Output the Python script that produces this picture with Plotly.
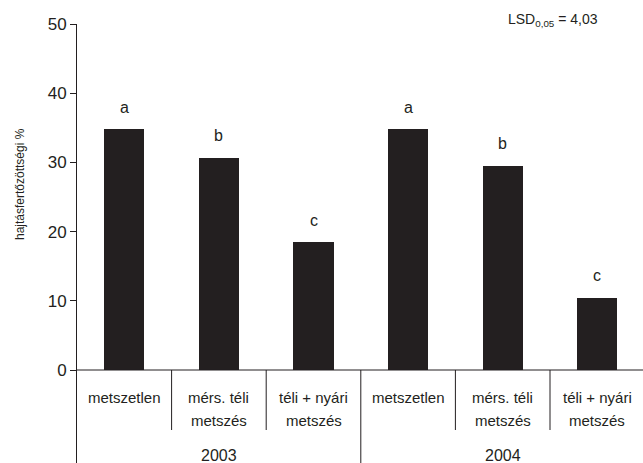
import plotly.graph_objects as go

# Shoot infection by pruning treatment and year
years = ["2003", "2004"]
treatments = ["metszetlen", "mérs. téli<br>metszés", "téli + nyári<br>metszés"]
values_2003 = [34.8, 30.7, 18.45]
values_2004 = [34.8, 29.5, 10.45]
letters_2003 = ["a", "b", "c"]
letters_2004 = ["a", "b", "c"]
y_ticks = [0, 10, 20, 30, 40, 50]
lsd_text = "LSD<sub>0,05</sub> = 4,03"
y_title = "hajtásfertőzöttségi %"

W, H = 643, 463
ML, MT = 77, 24
plot_w = W - ML
plot_h = H - MT

values = values_2003 + values_2004
letters = letters_2003 + letters_2004
labels = treatments * len(years)
n = len(values)
xs = list(range(n))

# y scale: 0 sits 93 px above the bottom edge, 50 at the top of the plot area
px_per_unit = (370 - MT) / 50.0
y_min = -(H - 370) / px_per_unit
slot_px = 94.6
x_max = -0.5 + plot_w / slot_px

ink = "#231f20"
font_family = "Liberation Sans, Arial, sans-serif"

fig = go.Figure()
fig.add_trace(go.Bar(
    x=xs, y=values, width=0.425,
    marker=dict(color=ink, line=dict(width=0)),
    hoverinfo="skip",
))

def px_to_y(py):
    return (370 - py) / px_per_unit

annotations = []
for i, (v, lt, lab) in enumerate(zip(values, letters, labels)):
    annotations.append(dict(x=i, y=v, text=lt, showarrow=False, xref="x", yref="y",
                            yanchor="middle", yshift=22,
                            font=dict(size=16, color=ink, family=font_family)))
    parts = lab.split("<br>")
    for k, p in enumerate(parts):
        annotations.append(dict(x=i, y=px_to_y(397 + 23 * k), text=p, showarrow=False,
                                xref="x", yref="y", yanchor="middle",
                                font=dict(size=15, color=ink, family=font_family)))

per_year = len(treatments)
for j, yr in enumerate(years):
    centre = j * per_year + (per_year - 1) / 2
    annotations.append(dict(x=centre, y=px_to_y(455), text=yr, showarrow=False,
                            xref="x", yref="y", yanchor="middle",
                            font=dict(size=16, color=ink, family=font_family)))

annotations.append(dict(x=(506 - ML) / plot_w, y=(H - 20) / plot_h, text=lsd_text,
                        showarrow=False, xref="paper", yref="paper",
                        xanchor="left", yanchor="middle",
                        font=dict(size=14, color=ink, family=font_family)))
annotations.append(dict(x=(20 - ML) / plot_w, y=(H - 184) / plot_h, text=y_title,
                        showarrow=False, xref="paper", yref="paper", textangle=-90,
                        xanchor="center", yanchor="middle",
                        font=dict(size=12, color=ink, family=font_family)))

# Separators between categories; the year boundary runs to the bottom edge
shapes = []
for i in range(1, n):
    long_line = (i % per_year == 0)
    shapes.append(dict(type="line", xref="x", yref="y",
                       x0=i - 0.5, x1=i - 0.5, y0=0,
                       y1=y_min if long_line else px_to_y(430),
                       line=dict(color=ink, width=1)))
shapes.append(dict(type="line", xref="x", yref="y", x0=-0.5, x1=x_max, y0=0, y1=0,
                   line=dict(color=ink, width=1)))

fig.update_layout(
    width=W, height=H,
    margin=dict(l=ML, r=0, t=MT, b=0, pad=0),
    plot_bgcolor="white", paper_bgcolor="white",
    showlegend=False,
    bargap=0,
    annotations=annotations,
    shapes=shapes,
    xaxis=dict(range=[-0.5, x_max], showticklabels=False, showgrid=False,
               zeroline=False, showline=False, ticks=""),
    yaxis=dict(range=[y_min, 50], tickvals=y_ticks, ticks="outside", ticklen=6,
               tickcolor=ink, showline=True, linecolor=ink, linewidth=1,
               showgrid=False, zeroline=False,
               tickfont=dict(size=17, color=ink, family=font_family)),
)

fig.write_html("out.html")
